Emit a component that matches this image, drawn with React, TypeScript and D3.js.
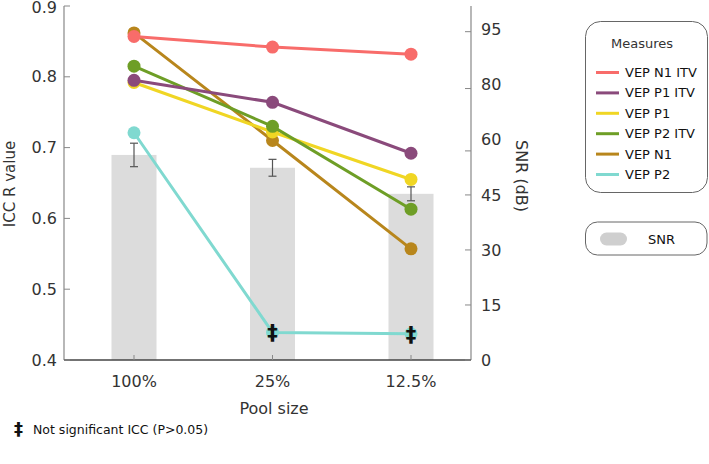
import React from "react";
import * as d3 from "d3";

const categories = ["100%", "25%", "12.5%"];
const seriesNames = ["VEP N1 ITV", "VEP P1 ITV", "VEP P1", "VEP P2 ITV", "VEP N1", "VEP P2"];
const seriesColors = ["#f86c6a", "#8a4a7b", "#f0d624", "#6e9e26", "#b8861c", "#80d9d0"];
const vepN1ITV = [0.857, 0.842, 0.832];
const vepP1ITV = [0.795, 0.764, 0.692];
const vepP1 = [0.792, 0.722, 0.655];
const vepP2ITV = [0.815, 0.73, 0.613];
const vepN1 = [0.862, 0.71, 0.557];
const vepP2 = [0.721, 0.439, 0.437];
const seriesValues = [vepN1ITV, vepP1ITV, vepP1, vepP2ITV, vepN1, vepP2];
const drawOrder = [5, 4, 2, 3, 1, 0];
const notSignificant = [[5, 1], [5, 2]];
const snrValues = [55.9, 52.4, 45.3];
const snrErrors = [3.2, 2.3, 1.9];
const iccTicks = [0.4, 0.5, 0.6, 0.7, 0.8, 0.9];
const snrLabelValues = [0, 15, 30, 45, 60, 75, 90];
const snrLabels = ["0", "15", "30", "45", "60", "80", "95"];
const snrTickMarks = [0, 15, 30, 45, 57, 74, 89.5];

const FONT = "DejaVu Sans, Verdana, sans-serif";

export default function App() {
  const left = 64, right = 471, top = 6, bottom = 360;
  const x = d3.scalePoint<string>().domain(categories).range([134, 411]);
  const y = d3.scaleLinear().domain([0.4, 0.9]).range([bottom, top]);
  const ySnr = d3.scaleLinear().domain([0, 96.5]).range([bottom, top]);
  const line = d3.line<number>().x((_, i) => x(categories[i])!).y((d) => y(d));
  const barW = 45;

  return (
    <svg width={709} height={464} style={{ position: "absolute", left: 0, top: 0, background: "#fff" }} fontFamily={FONT}>
      {/* bars */}
      {snrValues.map((v, i) => (
        <rect key={"b" + i} x={x(categories[i])! - barW / 2} y={ySnr(v)} width={barW} height={bottom - ySnr(v)} fill="#dcdcdc" />
      ))}
      {snrValues.map((v, i) => {
        const cx = x(categories[i])!;
        return (
          <g key={"e" + i} stroke="#555" strokeWidth={1.2}>
            <line x1={cx} x2={cx} y1={ySnr(v + snrErrors[i])} y2={ySnr(v - snrErrors[i])} />
            <line x1={cx - 4} x2={cx + 4} y1={ySnr(v + snrErrors[i])} y2={ySnr(v + snrErrors[i])} />
            <line x1={cx - 4} x2={cx + 4} y1={ySnr(v - snrErrors[i])} y2={ySnr(v - snrErrors[i])} />
          </g>
        );
      })}
      {/* axes */}
      <line x1={left} x2={left} y1={top} y2={bottom} stroke="#888" strokeWidth={1.2} />
      <line x1={right} x2={right} y1={top} y2={bottom} stroke="#888" strokeWidth={1.2} />
      <line x1={left} x2={right} y1={bottom} y2={bottom} stroke="#444" strokeWidth={1.4} />
      {iccTicks.map((t) => (
        <g key={"lt" + t}>
          <line x1={left} x2={left + 6} y1={y(t)} y2={y(t)} stroke="#888" />
          <text x={57} y={Math.max(y(t), 7.5)} dy="0.35em" textAnchor="end" fontSize={16} fill="#333">{t.toFixed(1)}</text>
        </g>
      ))}
      {snrTickMarks.map((t) => (
        <line key={"rt" + t} x1={right - 6} x2={right} y1={ySnr(t)} y2={ySnr(t)} stroke="#888" />
      ))}
      {snrLabelValues.map((t, i) => (
        <text key={"rl" + t} x={481} y={ySnr(t)} dy="0.35em" fontSize={16} fill="#333">{snrLabels[i]}</text>
      ))}
      {categories.map((c) => (
        <g key={"xt" + c}>
          <line x1={x(c)!} x2={x(c)!} y1={bottom - 5} y2={bottom} stroke="#888" />
          <text x={x(c)!} y={381} dy="0.35em" textAnchor="middle" fontSize={16} fill="#333">{c}</text>
        </g>
      ))}
      <text transform="translate(10,184) rotate(-90)" textAnchor="middle" dy="0.35em" fontSize={15} fill="#333">ICC R value</text>
      <text transform="translate(522,176) rotate(90)" textAnchor="middle" dy="0.35em" fontSize={16} fill="#333">SNR (dB)</text>
      <text x={274} y={408} dy="0.35em" textAnchor="middle" fontSize={16} fill="#333">Pool size</text>
      {/* lines */}
      {drawOrder.map((si) => (
        <g key={"s" + si}>
          <path d={line(seriesValues[si])!} fill="none" stroke={seriesColors[si]} strokeWidth={3} />
          {seriesValues[si].map((v, i) => (
            <circle key={i} cx={x(categories[i])!} cy={y(v)} r={6.5} fill={seriesColors[si]} />
          ))}
        </g>
      ))}
      {notSignificant.map(([si, i]) => (
        <text key={"ns" + i} x={x(categories[i])!} y={y(seriesValues[si][i])} dy="0.38em" textAnchor="middle" fontSize={21} fontWeight="bold" fill="#111">‡</text>
      ))}
      {/* legend */}
      <rect x={585.5} y={21.5} width={122} height={171} rx={15} fill="#fff" stroke="#666" />
      <text x={642} y={43} dy="0.35em" textAnchor="middle" fontSize={13} fill="#333">Measures</text>
      {seriesNames.map((n, i) => (
        <g key={"lg" + n}>
          <line x1={596} x2={619} y1={72.5 + i * 20.4} y2={72.5 + i * 20.4} stroke={seriesColors[i]} strokeWidth={3} />
          <text x={625} y={72.5 + i * 20.4} dy="0.35em" fontSize={13} fill="#111">{n}</text>
        </g>
      ))}
      <rect x={585.5} y={222} width={121.5} height={33} rx={12} fill="#fff" stroke="#666" />
      <rect x={600} y={232.5} width={27} height={13} rx={6.5} fill="#cfcfcf" />
      <text x={648} y={239} dy="0.35em" fontSize={13} fill="#111">SNR</text>
      {/* footnote */}
      <text x={14} y={429} dy="0.35em" fontSize={18} fontWeight="bold" fill="#111">‡</text>
      <text x={33} y={430} dy="0.35em" fontSize={12.5} fill="#111">Not significant ICC (P&gt;0.05)</text>
    </svg>
  );
}
